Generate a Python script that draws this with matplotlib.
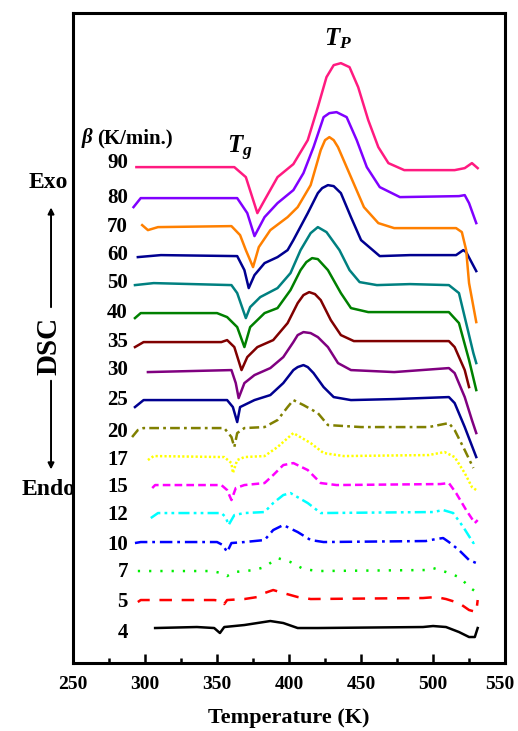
"""DSC curves of the glass at heating rates 4-90 K/min, stacked."""

import matplotlib

matplotlib.use("Agg")
import matplotlib.pyplot as plt
from matplotlib.transforms import ScaledTranslation

plt.rcParams["font.family"] = ["Liberation Serif", "DejaVu Serif"]
plt.rcParams["font.weight"] = "bold"
plt.rcParams["mathtext.fontset"] = "custom"
plt.rcParams["mathtext.it"] = "Liberation Serif:italic:bold"
plt.rcParams["mathtext.rm"] = "Liberation Serif:bold"
plt.rcParams["mathtext.bf"] = "Liberation Serif:bold"
plt.rcParams["lines.scale_dashes"] = False

# heating rates (K/min) and the stacked, offset heat-flow traces (arb. units)
rates = [4, 5, 7, 10, 12, 15, 17, 20, 25, 30, 35, 40, 50, 60, 70, 80, 90]

temp_4 = [307, 336, 348, 352, 355, 369, 378, 387, 396, 406, 420, 493, 500, 509, 518, 525, 529, 531]
flow_4 = [35, 36, 35, 30, 36, 38, 40, 42, 40, 35, 35, 36, 37, 36, 31, 26, 26, 35]

temp_5 = [295, 297, 348, 354, 355, 357, 369, 378, 383, 389, 396, 406, 415, 493, 502, 509, 518, 525, 530, 531]
flow_5 = [61, 63, 63, 62, 59, 63, 64, 66, 70, 73, 70, 66, 64, 65, 66, 64, 60, 53, 51, 63]

temp_7 = [295, 346, 353, 357, 362, 376, 383, 392, 401, 410, 420, 495, 500, 509, 518, 527, 530]
flow_7 = [92, 92, 90, 87, 91, 93, 96, 105, 101, 94, 92, 93, 95, 91, 86, 74, 71]

temp_10 = [293, 297, 350, 354, 357, 360, 369, 383, 389, 396, 406, 415, 424, 495, 502, 507, 511, 518, 525, 530]
flow_10 = [120, 121, 121, 118, 111, 120, 121, 123, 133, 138, 131, 123, 121, 122, 124, 125, 121, 113, 103, 100]

temp_12 = [304, 309, 353, 356, 358, 362, 369, 383, 389, 396, 401, 413, 422, 500, 507, 514, 521, 528, 531]
flow_12 = [145, 150, 150, 146, 138, 148, 150, 151, 160, 168, 170, 160, 150, 151, 153, 150, 136, 120, 123]

temp_15 = [305, 307, 353, 357, 360, 363, 369, 383, 389, 396, 403, 413, 422, 433, 505, 511, 516, 523, 529, 531]
flow_15 = [175, 178, 178, 173, 163, 175, 178, 180, 188, 198, 200, 193, 180, 178, 179, 180, 170, 153, 140, 143]

temp_17 = [302, 306, 355, 360, 361, 364, 369, 383, 392, 403, 415, 424, 438, 497, 508, 515, 522, 527, 530]
flow_17 = [203, 207, 206, 200, 190, 203, 206, 207, 216, 230, 220, 210, 207, 208, 211, 206, 190, 176, 173]

temp_20 = [291, 295, 299, 355, 360, 362, 364, 369, 383, 392, 399, 403, 410, 420, 427, 450, 497, 511, 515, 522, 528]
flow_20 = [226, 233, 235, 235, 226, 216, 230, 235, 236, 243, 256, 263, 258, 250, 238, 236, 236, 240, 233, 213, 195]

temp_25 = [293, 299, 357, 361, 364, 366, 376, 387, 396, 403, 406, 410, 413, 417, 424, 431, 443, 473, 511, 515, 522, 530]
flow_25 = [256, 263, 263, 256, 241, 256, 263, 268, 280, 293, 296, 298, 296, 290, 276, 266, 263, 264, 266, 260, 236, 206]

temp_30 = [302, 360, 363, 365, 369, 376, 387, 396, 403, 406, 410, 415, 420, 427, 434, 443, 473, 511, 515, 522, 527, 530]
flow_30 = [291, 293, 280, 265, 280, 288, 295, 306, 321, 328, 331, 330, 326, 316, 300, 293, 291, 295, 290, 266, 243, 230]

temp_35 = [293, 299, 353, 357, 362, 367, 371, 378, 389, 399, 406, 410, 414, 418, 422, 429, 436, 445, 511, 515, 522, 525]
flow_35 = [316, 321, 321, 323, 316, 293, 306, 316, 323, 340, 360, 368, 371, 369, 363, 343, 328, 322, 322, 316, 293, 276]

temp_40 = [293, 297, 350, 357, 364, 369, 373, 383, 392, 401, 408, 412, 416, 420, 427, 436, 443, 455, 511, 518, 525, 530]
flow_40 = [345, 350, 350, 346, 336, 316, 336, 350, 355, 373, 393, 401, 405, 404, 393, 370, 355, 351, 351, 340, 303, 273]

temp_50 = [293, 306, 360, 364, 370, 373, 380, 392, 401, 408, 415, 420, 426, 435, 442, 449, 461, 484, 511, 518, 523, 528, 530]
flow_50 = [378, 380, 378, 370, 345, 356, 366, 375, 390, 413, 430, 436, 431, 413, 393, 381, 378, 379, 378, 370, 340, 310, 300]

temp_60 = [295, 311, 364, 369, 372, 376, 383, 392, 399, 403, 413, 420, 423, 427, 431, 436, 443, 450, 463, 484, 516, 521, 523, 530]
flow_60 = [406, 408, 407, 393, 375, 388, 400, 406, 413, 423, 450, 470, 475, 478, 477, 470, 446, 423, 407, 408, 408, 413, 411, 392]

temp_70 = [298, 302, 309, 360, 366, 370, 375, 379, 387, 399, 406, 415, 422, 425, 428, 431, 434, 443, 452, 462, 473, 516, 520, 523, 525, 530]
flow_70 = [438, 433, 436, 437, 428, 413, 396, 416, 433, 446, 456, 478, 513, 523, 526, 523, 516, 486, 456, 440, 435, 435, 431, 413, 380, 341]

temp_80 = [292, 297, 364, 371, 376, 383, 392, 403, 410, 417, 424, 428, 433, 440, 447, 454, 463, 477, 518, 522, 525, 530]
flow_80 = [456, 465, 465, 450, 427, 446, 460, 473, 490, 516, 546, 550, 551, 546, 523, 496, 476, 466, 467, 468, 460, 440]

temp_90 = [294, 362, 370, 378, 383, 392, 403, 413, 420, 426, 431, 436, 442, 448, 455, 462, 469, 480, 515, 522, 527, 531]
flow_90 = [496, 496, 486, 450, 463, 486, 499, 523, 556, 586, 598, 600, 596, 576, 543, 516, 500, 493, 493, 495, 500, 495]

temps = [temp_4, temp_5, temp_7, temp_10, temp_12, temp_15, temp_17, temp_20, temp_25,
         temp_30, temp_35, temp_40, temp_50, temp_60, temp_70, temp_80, temp_90]
flows = [flow_4, flow_5, flow_7, flow_10, flow_12, flow_15, flow_17, flow_20, flow_25,
         flow_30, flow_35, flow_40, flow_50, flow_60, flow_70, flow_80, flow_90]

colors = ["#000000", "#ff0000", "#00ee00", "#0000ff", "#00ffff", "#ff00ff", "#ffff00",
          "#808000", "#000090", "#800080", "#800000", "#008000", "#008080", "#000090",
          "#ff8000", "#8000ff", "#ff1a80"]
solid = "-"
styles = [solid, (0, (9, 7)), (0, (1.6, 6.5)), (0, (9, 3.5, 2, 3.5)),
          (0, (8, 3, 2, 3, 2, 3)), (0, (5.5, 3)), (0, (1.6, 1.6)), (0, (7, 3, 2, 3)),
          solid, solid, solid, solid, solid, solid, solid, solid, solid]
label_y = [30, 61, 91, 118, 148, 176, 203, 231, 263, 293, 321, 350, 380, 408, 436, 465, 500]

fig = plt.figure(figsize=(5.18, 7.31), dpi=100)
ax = fig.add_axes([0.141, 0.093, 0.834, 0.889])

for t, q, c, ls, rate, ly in zip(temps, flows, colors, styles, rates, label_y):
    ax.plot(t, q, color=c, linestyle=ls, lw=1.8)
    ax.text(288, ly, str(rate), ha="right", va="center", fontsize=15, fontweight="bold")

ax.text(256, 525, "β", ha="left", va="center", fontsize=15,
        fontstyle="italic", fontweight="bold")
ax.text(266.5, 525, "(K/min.)", ha="left", va="center", fontsize=15, fontweight="bold")
ax.text(366, 515, r"$T_g$", ha="center", va="center", fontsize=18)
ax.text(434, 624, r"$T_P$", ha="center", va="center", fontsize=18)

ax.set_xlim(250, 550)
ax.set_ylim(0, 650)
ax.set_xticks(range(250, 551, 50))
ax.set_xticks(range(275, 550, 50), minor=True)
ax.set_yticks([])
ax.tick_params(axis="x", which="major", direction="in", length=6.5, width=1.8,
               labelsize=14, pad=9)
ax.tick_params(axis="x", which="minor", direction="in", length=3.5, width=1.8)
for lab in ax.get_xticklabels():
    lab.set_fontweight("bold")
# the last label sits at the figure edge, nudge it in a little
last = ax.xaxis.get_major_ticks()[-1].label1
last.set_transform(last.get_transform() + ScaledTranslation(-4 / 72, 0, fig.dpi_scale_trans))
for sp in ax.spines.values():
    sp.set_linewidth(2.2)
ax.set_xlabel("Temperature (K)", fontsize=16, fontweight="bold", labelpad=11)

# Exo / DSC / Endo marker outside the axes
fig.text(0.093, 0.750, "Exo", ha="center", va="center", fontsize=17, fontweight="bold")
fig.text(0.093, 0.330, "Endo", ha="center", va="center", fontsize=17, fontweight="bold")
fig.text(0.095, 0.527, "DSC", ha="center", va="center", rotation=90,
         fontsize=21, fontweight="bold")
arrow = dict(arrowstyle="-|>", lw=1.4, color="black", mutation_scale=9)
fig.add_artist(matplotlib.patches.FancyArrowPatch((0.0985, 0.576), (0.0985, 0.720),
                                                  transform=fig.transFigure, **arrow))
fig.add_artist(matplotlib.patches.FancyArrowPatch((0.0985, 0.483), (0.0985, 0.354),
                                                  transform=fig.transFigure, **arrow))

fig.savefig("out.png", dpi=100)
